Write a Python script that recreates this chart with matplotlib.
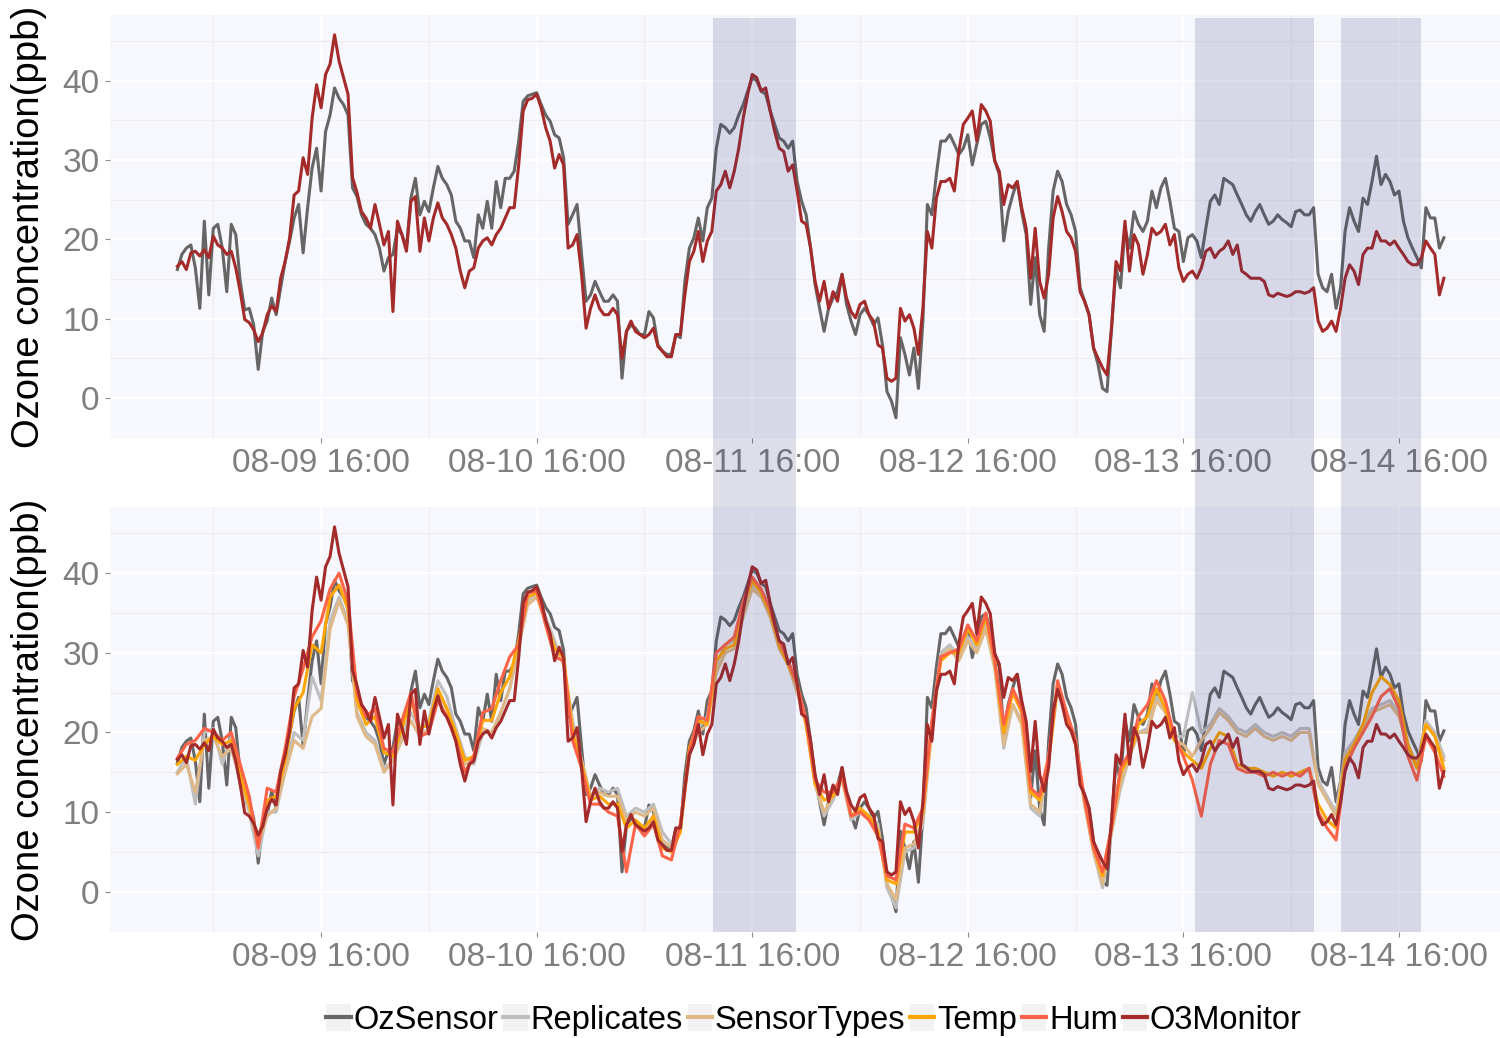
import pandas as pd
import matplotlib
matplotlib.use("Agg")
import matplotlib.pyplot as plt
import matplotlib.dates as mdates
import matplotlib.transforms as mtransforms
from matplotlib.patches import Rectangle, Patch
from matplotlib.lines import Line2D
from matplotlib.legend_handler import HandlerTuple

plt.rcParams['font.family'] = ['Liberation Sans', 'DejaVu Sans']

# ---- data -----------------------------------------------------------------
start = "2016-08-09 00:00"

# half-hourly ozone readings (ppb)
oz_sensor = [
    16.2, 18.1, 18.9, 19.3, 16.4, 11.3, 22.3, 13.0, 21.4, 21.9, 18.9, 13.4, 21.9, 20.6, 14.7, 11.1,
    11.3, 9.2, 3.6, 8.4, 9.7, 12.6, 10.5, 13.9, 17.2, 19.8, 22.7, 24.4, 18.3, 24.0, 29.0, 31.5,
    26.1, 33.6, 35.7, 39.1, 37.8, 37.0, 35.7, 26.5, 25.4, 23.1, 21.9, 21.4, 20.6, 18.9, 16.0, 17.7,
    18.1, 21.4, 20.6, 18.9, 25.2, 27.7, 23.1, 24.8, 23.5, 26.5, 29.2, 27.7, 26.9, 25.6, 22.3, 21.4,
    19.8, 19.8, 17.7, 23.1, 21.4, 24.8, 21.4, 27.3, 24.0, 27.7, 27.7, 28.6, 32.4, 37.4, 38.1, 38.3,
    38.5, 37.0, 35.7, 34.9, 33.2, 32.8, 30.3, 21.9, 23.1, 24.4, 18.1, 12.2, 13.0, 14.7, 13.4, 12.2,
    12.2, 13.0, 12.2, 2.5, 8.4, 9.2, 8.8, 8.0, 8.0, 10.9, 10.1, 6.7, 5.9, 5.5, 5.5, 8.0,
    7.6, 14.7, 18.9, 20.2, 22.7, 19.8, 24.0, 25.2, 31.5, 34.5, 34.1, 33.4, 34.1, 35.7, 37.0, 38.7,
    40.4, 40.0, 38.7, 38.3, 36.2, 34.5, 32.8, 32.4, 31.5, 32.4, 27.3, 24.8, 23.1, 18.9, 14.3, 11.3,
    8.4, 11.3, 12.6, 13.4, 15.6, 11.8, 9.7, 8.0, 10.5, 11.3, 10.5, 9.2, 10.1, 6.7, 0.8, -0.4,
    -2.5, 7.6, 5.5, 2.9, 6.3, 1.2, 9.7, 24.4, 23.1, 28.2, 32.4, 32.4, 33.2, 32.0, 30.7, 31.5,
    33.2, 29.4, 32.0, 34.5, 34.9, 32.8, 29.9, 28.2, 19.8, 23.5, 25.6, 27.3, 23.5, 20.6, 11.8, 17.7,
    10.5, 8.4, 18.9, 26.1, 28.6, 27.3, 24.4, 23.1, 21.0, 13.9, 12.2, 10.5, 6.3, 4.2, 1.2, 0.8,
    8.8, 16.4, 13.9, 21.4, 18.9, 23.5, 21.9, 21.0, 22.3, 26.1, 24.0, 26.5, 27.7, 24.8, 21.4, 21.0,
    17.2, 20.2, 20.6, 19.8, 17.7, 21.4, 24.8, 25.6, 24.4, 27.7, 27.3, 26.9, 25.6, 24.4, 23.1, 22.3,
    23.5, 24.4, 23.1, 21.9, 22.3, 23.1, 22.5, 22.1, 21.6, 23.5, 23.7, 23.1, 23.1, 24.0, 15.6, 13.9,
    13.4, 15.6, 11.3, 13.9, 21.0, 24.0, 22.3, 21.0, 25.2, 24.4, 27.3, 30.5, 26.9, 28.2, 27.3, 25.6,
    26.1, 22.3, 20.2, 18.9, 17.7, 16.4, 24.0, 22.7, 22.7, 18.9, 20.2,
]
o3_monitor = [
    16.6, 17.2, 16.2, 18.3, 18.5, 17.9, 18.7, 17.7, 20.4, 19.3, 18.9, 18.1, 18.5, 16.4, 13.4, 9.9,
    9.5, 8.6, 7.1, 8.2, 10.5, 11.6, 10.9, 15.1, 17.2, 20.2, 25.6, 26.1, 30.3, 28.2, 35.3, 39.5,
    36.6, 40.8, 42.1, 45.8, 42.5, 40.4, 38.3, 27.8, 25.9, 23.5, 22.7, 21.4, 24.4, 21.9, 19.3, 21.0,
    10.9, 22.3, 20.6, 18.5, 24.8, 25.4, 18.5, 22.7, 19.8, 22.7, 24.6, 22.7, 21.9, 20.6, 18.9, 16.0,
    13.9, 16.0, 16.4, 18.9, 19.8, 20.2, 19.3, 20.6, 21.4, 22.7, 24.0, 24.0, 29.4, 36.2, 37.6, 37.8,
    38.3, 36.6, 34.1, 32.4, 29.0, 30.7, 29.4, 18.9, 19.3, 20.6, 15.6, 8.8, 11.3, 13.0, 11.3, 10.5,
    10.5, 11.3, 10.5, 5.0, 8.4, 9.7, 8.4, 8.0, 7.6, 8.0, 8.8, 6.5, 5.9, 5.2, 5.2, 8.0,
    8.0, 13.0, 17.2, 18.5, 21.0, 17.2, 19.8, 21.0, 26.1, 26.9, 28.6, 26.5, 28.6, 31.5, 35.3, 38.3,
    40.8, 40.4, 38.7, 39.1, 36.2, 33.6, 31.5, 31.1, 28.6, 29.4, 26.1, 22.3, 21.9, 18.9, 14.7, 12.2,
    14.7, 11.3, 13.4, 12.2, 15.6, 12.6, 10.9, 10.1, 11.8, 12.2, 10.5, 9.7, 6.7, 6.3, 2.5, 2.1,
    2.5, 11.3, 9.7, 10.5, 8.8, 5.5, 11.3, 21.0, 18.9, 25.2, 27.3, 27.3, 27.7, 26.1, 31.1, 34.5,
    35.3, 36.2, 32.4, 37.0, 36.2, 34.9, 29.9, 28.6, 24.4, 26.9, 26.5, 27.3, 24.0, 21.4, 15.1, 21.4,
    14.7, 12.6, 15.6, 22.7, 25.4, 23.5, 21.0, 20.2, 18.5, 13.4, 12.2, 10.5, 6.3, 5.0, 3.8, 2.9,
    8.8, 17.2, 16.0, 22.3, 16.0, 20.6, 19.3, 15.6, 18.1, 21.4, 20.6, 21.0, 21.9, 19.3, 20.6, 16.4,
    14.7, 15.6, 16.0, 15.1, 16.4, 18.5, 18.9, 17.7, 18.5, 18.9, 19.8, 18.1, 19.3, 16.0, 15.6, 15.1,
    15.1, 15.1, 14.7, 13.0, 12.8, 13.2, 13.0, 12.8, 13.0, 13.4, 13.4, 13.2, 13.4, 13.9, 9.7, 8.4,
    8.8, 9.7, 8.4, 11.3, 15.1, 16.8, 16.0, 14.3, 18.1, 18.9, 18.9, 21.0, 19.8, 19.8, 19.3, 19.8,
    18.9, 18.1, 17.2, 16.8, 16.8, 17.7, 19.8, 18.9, 18.1, 13.0, 15.1,
]

# hourly calibrated estimates (ppb)
replicates = [
    15.0, 17.0, 11.0, 20.0, 20.5, 16.0, 19.5, 13.5, 10.0, 4.5,
    10.0, 10.0, 15.5, 20.0, 19.0, 27.0, 24.0, 34.0, 37.0, 34.0,
    22.5, 20.0, 19.0, 15.5, 16.5, 19.5, 22.5, 20.5, 21.5, 26.5,
    24.5, 20.5, 17.0, 16.0, 20.0, 20.0, 22.5, 25.5, 30.5, 36.5,
    37.5, 34.5, 31.5, 28.5, 21.5, 16.5, 12.0, 13.0, 12.5, 13.0,
    9.5, 10.5, 10.0, 11.0, 7.5, 6.0, 8.0, 17.0, 20.5, 22.0,
    28.5, 31.0, 31.5, 35.0, 38.5, 37.5, 35.0, 31.0, 29.0, 25.5,
    21.5, 13.5, 9.5, 11.5, 14.5, 9.0, 10.0, 9.5, 8.5, 0.5,
    -2.0, 5.0, 5.5, 8.5, 21.0, 30.0, 31.0, 29.5, 32.0, 30.5,
    33.5, 28.5, 18.0, 23.5, 21.5, 10.5, 9.5, 17.0, 26.0, 22.5,
    19.0, 11.0, 5.0, 0.5, 7.5, 13.0, 17.0, 20.0, 20.5, 24.5,
    23.0, 19.5, 19.5, 25.0, 20.0, 21.0, 23.0, 22.0, 20.5, 20.0,
    21.0, 20.0, 19.5, 20.0, 19.5, 20.5, 20.5, 14.0, 12.0, 10.0,
    17.5, 19.0, 21.0, 23.0, 23.5, 24.0, 22.5, 18.5, 16.0, 21.5,
    20.0, 17.0,
]
sensor_types = [
    14.8, 16.0, 12.5, 19.0, 19.5, 17.0, 18.0, 14.0, 10.5, 6.0,
    9.5, 10.5, 15.0, 19.0, 18.0, 22.0, 23.0, 33.0, 36.5, 33.5,
    22.0, 19.5, 18.5, 15.0, 16.5, 19.0, 21.5, 19.5, 20.5, 25.0,
    23.0, 19.5, 16.0, 16.5, 20.5, 20.0, 22.5, 25.5, 31.0, 36.0,
    37.0, 34.0, 31.0, 28.5, 21.0, 16.5, 12.0, 12.5, 12.0, 12.0,
    9.0, 10.0, 9.5, 10.5, 6.5, 5.5, 8.5, 17.5, 20.0, 21.0,
    27.5, 30.0, 30.5, 34.5, 38.0, 37.0, 34.5, 30.5, 28.5, 25.0,
    21.0, 13.5, 10.0, 12.0, 14.0, 9.5, 10.0, 9.5, 8.0, 1.0,
    -1.0, 5.5, 6.0, 9.0, 20.5, 29.5, 30.5, 29.0, 31.5, 30.0,
    33.0, 28.0, 18.5, 23.5, 21.0, 11.0, 10.0, 16.5, 25.5, 22.0,
    18.5, 11.0, 5.0, 1.0, 7.5, 13.5, 17.0, 20.0, 20.0, 24.0,
    22.5, 19.0, 18.5, 17.0, 19.0, 20.5, 22.5, 21.5, 20.0, 19.5,
    20.5, 19.5, 19.0, 19.5, 19.0, 20.0, 20.0, 13.5, 11.5, 9.5,
    17.0, 18.5, 20.5, 22.5, 23.0, 23.5, 22.0, 18.0, 15.5, 21.0,
    19.5, 16.5,
]
temp_model = [
    16.0, 17.0, 16.5, 18.5, 19.5, 18.5, 19.0, 14.5, 11.0, 6.5,
    11.5, 12.0, 16.5, 23.0, 25.0, 31.0, 30.0, 37.0, 38.5, 35.5,
    24.0, 21.0, 22.0, 17.5, 17.0, 20.5, 24.0, 20.5, 21.0, 25.5,
    23.0, 20.0, 16.5, 17.0, 21.5, 21.5, 25.0, 27.0, 31.5, 37.0,
    37.5, 34.0, 30.5, 29.5, 20.0, 16.0, 11.5, 12.0, 11.0, 11.0,
    8.0, 9.0, 8.0, 9.5, 5.5, 5.0, 7.5, 18.0, 21.5, 21.0,
    29.0, 30.5, 31.0, 36.0, 39.0, 37.5, 35.0, 31.0, 28.5, 26.0,
    21.0, 13.5, 11.5, 12.0, 14.5, 9.5, 10.5, 9.5, 7.5, 1.5,
    1.0, 7.5, 7.5, 10.0, 21.0, 29.0, 30.0, 30.0, 33.0, 31.0,
    34.5, 29.0, 20.0, 25.0, 22.5, 12.5, 11.5, 16.5, 26.0, 22.0,
    18.5, 11.5, 5.5, 2.0, 8.0, 15.0, 17.0, 21.0, 22.0, 25.5,
    23.0, 19.0, 17.5, 16.5, 15.5, 18.0, 20.0, 19.5, 16.0, 15.5,
    15.5, 15.0, 14.5, 15.0, 14.5, 15.0, 15.5, 11.0, 9.0, 8.0,
    16.5, 18.5, 21.0, 25.0, 27.0, 26.0, 24.0, 18.5, 15.5, 21.0,
    19.5, 15.5,
]
hum_model = [
    16.8, 18.5, 19.0, 20.5, 20.0, 19.0, 20.0, 16.0, 12.0, 5.5,
    13.0, 12.5, 18.0, 24.5, 28.0, 32.0, 34.0, 38.0, 40.0, 36.5,
    25.0, 22.0, 23.0, 18.0, 17.5, 21.5, 25.0, 19.5, 20.0, 24.0,
    22.0, 19.0, 15.0, 17.0, 22.5, 23.0, 26.5, 29.5, 31.0, 37.5,
    37.8, 33.5, 29.5, 29.0, 19.0, 15.5, 11.0, 11.0, 10.0, 9.5,
    2.5, 8.5, 7.0, 8.5, 4.5, 4.0, 8.5, 17.5, 22.0, 21.5,
    30.0, 31.0, 32.0, 36.5, 39.5, 38.0, 35.5, 31.5, 29.0, 26.0,
    21.5, 14.0, 12.5, 12.5, 14.5, 9.5, 10.0, 9.0, 7.0, 2.0,
    1.5, 8.5, 8.0, 10.5, 21.5, 29.5, 30.0, 30.5, 33.5, 31.5,
    35.0, 29.0, 21.0, 25.5, 23.0, 13.0, 12.0, 17.0, 26.5, 22.5,
    19.0, 11.5, 5.5, 2.5, 8.0, 15.5, 17.5, 22.0, 23.5, 26.5,
    24.0, 19.5, 17.0, 14.0, 9.5, 16.0, 19.0, 18.5, 15.5, 15.0,
    15.0, 14.5, 15.0, 14.5, 15.0, 14.5, 15.5, 10.0, 8.0, 6.5,
    15.5, 18.0, 20.0, 22.0, 24.5, 25.5, 23.0, 17.0, 14.0, 19.5,
    17.5, 14.5,
]

series_names = ["OzSensor", "Replicates", "SensorTypes", "Temp", "Hum", "O3Monitor"]
series_colors = ["#666666", "#BEBEBE", "#DEB887", "#FFA500", "#FF6347", "#A52A2A"]

shaded_periods = [
    ("2016-08-11 11:40", "2016-08-11 20:50"),
    ("2016-08-13 17:20", "2016-08-14 06:30"),
    ("2016-08-14 09:30", "2016-08-14 18:30"),
]

t_fine = pd.date_range(start, periods=len(oz_sensor), freq="30min")
t_hourly = pd.date_range(start, periods=len(replicates), freq="h")

# ---- figure ---------------------------------------------------------------
W, H = 1500, 1038
fig = plt.figure(figsize=(W / 100, H / 100), dpi=100)
ax_top = fig.add_axes([110 / W, 1 - 438 / H, 1390 / W, 423 / H])
ax_bot = fig.add_axes([110 / W, 1 - 932 / H, 1390 / W, 425 / H])

x_lo = pd.Timestamp("2016-08-08 16:30")
x_hi = pd.Timestamp("2016-08-15 03:15")


def style(ax):
    ax.set_facecolor("#F7F8FD")
    for s in ax.spines.values():
        s.set_visible(False)
    ax.set_xlim(x_lo, x_hi)
    ax.set_ylim(-5.05, 48.3)
    ax.set_yticks([0, 10, 20, 30, 40])
    ax.set_yticks([-5, 5, 15, 25, 35, 45], minor=True)
    ax.xaxis.set_major_locator(mdates.HourLocator(byhour=[16]))
    ax.xaxis.set_minor_locator(mdates.HourLocator(byhour=[4]))
    ax.xaxis.set_major_formatter(mdates.DateFormatter("%m-%d %H:%M"))
    ax.grid(which="major", color="white", lw=1.4)
    ax.grid(which="minor", color="#EDEDF2", lw=1.0)
    ax.set_axisbelow(True)
    ax.tick_params(which="major", length=3.5, width=0.8, color="#8C8C8C",
                   labelsize=24, labelcolor="#7F7F7F", pad=4)
    ax.tick_params(which="minor", length=0)
    ax.set_ylabel("Ozone concentration(ppb)", fontsize=27.5, color="black")
    ax.yaxis.set_label_coords(-0.0455, 0.5)


for ax in (ax_top, ax_bot):
    style(ax)

lw = 2.2
ax_top.plot(t_fine, oz_sensor, color=series_colors[0], lw=lw)
ax_top.plot(t_fine, o3_monitor, color=series_colors[5], lw=lw)

ax_bot.plot(t_fine, oz_sensor, color=series_colors[0], lw=lw)
ax_bot.plot(t_hourly, replicates, color=series_colors[1], lw=lw)
ax_bot.plot(t_hourly, sensor_types, color=series_colors[2], lw=lw)
ax_bot.plot(t_hourly, temp_model, color=series_colors[3], lw=lw)
ax_bot.plot(t_hourly, hum_model, color=series_colors[4], lw=lw)
ax_bot.plot(t_fine, o3_monitor, color=series_colors[5], lw=lw)

# highlighted periods spanning both panels
trans = mtransforms.blended_transform_factory(ax_top.transData, fig.transFigure)
y0 = 1 - 932 / H
y1 = 1 - 18 / H
for s, e in shaded_periods:
    a = mdates.date2num(pd.Timestamp(s))
    b = mdates.date2num(pd.Timestamp(e))
    fig.add_artist(Rectangle((a, y0), b - a, y1 - y0, transform=trans,
                             facecolor="#333378", alpha=0.16,
                             edgecolor="none", zorder=5))

# legend
handles = [(Patch(facecolor="#F2F2F2", edgecolor="none"),
            Line2D([], [], color=c, lw=3)) for c in series_colors]
fig.legend(handles, series_names,
           handler_map={tuple: HandlerTuple(ndivide=1, pad=0)},
           loc="center", bbox_to_anchor=(814 / W, 1 - 1020 / H),
           ncol=6, frameon=False, fontsize=23.5,
           handlelength=0.75, handleheight=0.9, handletextpad=0.08,
           columnspacing=0.15, borderpad=0)

fig.savefig("out.png", dpi=100)
